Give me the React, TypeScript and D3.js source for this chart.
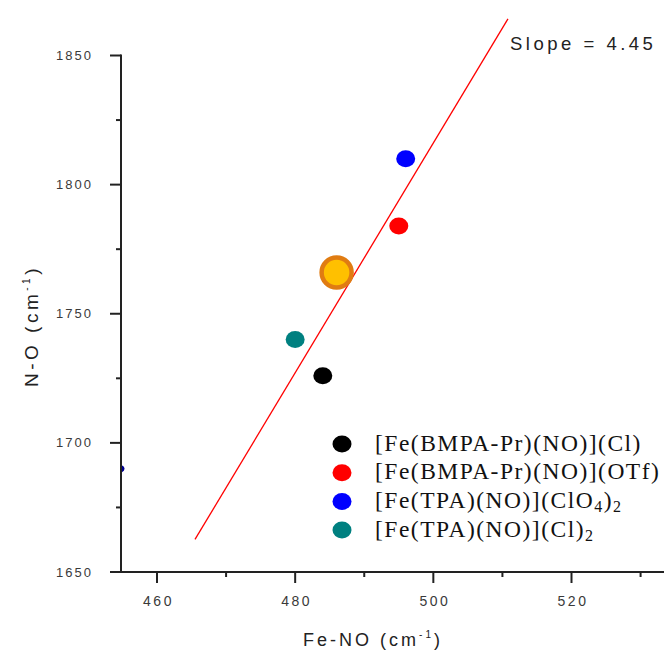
import React from "react";
import * as d3 from "d3";

// Fe–NO vs N–O stretching frequencies for the nitrosyl complexes
const seriesNames = [
  "[Fe(BMPA-Pr)(NO)](Cl)",
  "[Fe(BMPA-Pr)(NO)](OTf)",
  "[Fe(TPA)(NO)](ClO4)2",
  "[Fe(TPA)(NO)](Cl)2",
];
const seriesColors = ["#000000", "#ff0000", "#0000ff", "#008080"];
const feNO = [484, 495, 496, 480];
const nO = [1726, 1784, 1810, 1740];

// highlighted complex
const highlightFeNO = 486;
const highlightNO = 1766;

// stray point sitting on the left edge of the plot
const edgeFeNO = [454];
const edgeNO = [1690];

// linear fit
const fitSlope = 4.45;
const fitAnchor = [488.15, 1763.4];
const fitRange = [465.5, 510.8];

const xMajor = [460, 480, 500, 520];
const xMinor = [470, 490, 510, 530];
const yMajor = [1650, 1700, 1750, 1800, 1850];
const yMinor = [1675, 1725, 1775, 1825];

const W = 664;
const H = 651;
const AXIS_X = 121;
const AXIS_Y = 572;

const x = d3.scaleLinear().domain([460, 520]).range([157, 571.5]);
const y = d3.scaleLinear().domain([1650, 1850]).range([572, 55.5]);

const tickFont = "'Liberation Sans', Arial, sans-serif";
const legendFont = "'Liberation Serif', 'Times New Roman', serif";

// Splits a formula so the trailing counts of (ClO4)2 / (Cl)2 become subscripts
function formulaParts(text: string): { t: string; sub: boolean }[] {
  if (text.endsWith("(ClO4)2")) {
    return [
      { t: text.slice(0, -7) + "(ClO", sub: false },
      { t: "4", sub: true },
      { t: ")", sub: false },
      { t: "2", sub: true },
    ];
  }
  if (text.endsWith("(Cl)2")) {
    return [
      { t: text.slice(0, -1), sub: false },
      { t: "2", sub: true },
    ];
  }
  return [{ t: text, sub: false }];
}

function Formula({ text }: { text: string }) {
  const parts = formulaParts(text);
  return (
    <>
      {parts.map((p, i) =>
        p.sub ? (
          <tspan key={i} fontSize={16} dy={4}>
            {p.t}
          </tspan>
        ) : (
          <tspan key={i} dy={i > 0 && parts[i - 1].sub ? -4 : 0}>
            {p.t}
          </tspan>
        )
      )}
    </>
  );
}

export default function App() {
  const line = d3
    .line<number>()
    .x((d) => x(d))
    .y((d) => y(fitAnchor[1] + fitSlope * (d - fitAnchor[0])));

  return (
    <svg
      width={W}
      height={H}
      style={{ position: "absolute", left: 0, top: 0, background: "#fff" }}
    >
      <defs>
        <clipPath id="plotArea">
          <rect x={AXIS_X - 1} y={0} width={W} height={AXIS_Y} />
        </clipPath>
      </defs>

      {/* fit line */}
      <path
        d={line(fitRange) || ""}
        fill="none"
        stroke="#ff0000"
        strokeWidth={1.3}
      />

      {/* data points */}
      <g clipPath="url(#plotArea)">
        {edgeFeNO.map((v, i) => (
          <ellipse
            key={"e" + i}
            cx={x(v)}
            cy={y(edgeNO[i])}
            rx={9}
            ry={5}
            fill="#000090"
          />
        ))}
        {feNO.map((v, i) => (
          <ellipse
            key={i}
            cx={x(v)}
            cy={y(nO[i])}
            rx={9.5}
            ry={8.5}
            fill={seriesColors[i]}
          />
        ))}
        <circle
          cx={x(highlightFeNO)}
          cy={y(highlightNO)}
          r={15}
          fill="#ffc000"
          stroke="#e07c12"
          strokeWidth={4.5}
        />
      </g>

      {/* y axis */}
      <g stroke="#222" strokeWidth={2}>
        <line x1={AXIS_X} x2={AXIS_X} y1={y(1850) - 1} y2={AXIS_Y + 1} />
        {yMajor.map((t) => (
          <line key={t} x1={AXIS_X - 11} x2={AXIS_X} y1={y(t)} y2={y(t)} />
        ))}
        {yMinor.map((t) => (
          <line key={t} x1={AXIS_X - 5} x2={AXIS_X} y1={y(t)} y2={y(t)} />
        ))}
      </g>
      {yMajor.map((t) => (
        <text
          key={t}
          x={AXIS_X - 28}
          y={y(t) + 4.5}
          textAnchor="end"
          fontFamily={tickFont}
          fontSize={13}
          letterSpacing={2}
          fill="#3a3a3a"
        >
          {t}
        </text>
      ))}

      {/* x axis */}
      <g stroke="#222" strokeWidth={2}>
        <line x1={AXIS_X - 1} x2={W} y1={AXIS_Y} y2={AXIS_Y} />
        {xMajor.map((t) => (
          <line key={t} x1={x(t)} x2={x(t)} y1={AXIS_Y} y2={AXIS_Y + 11} />
        ))}
        {xMinor.map((t) => (
          <line key={t} x1={x(t)} x2={x(t)} y1={AXIS_Y} y2={AXIS_Y + 5} />
        ))}
      </g>
      {xMajor.map((t) => (
        <text
          key={t}
          x={x(t) + 1.5}
          y={AXIS_Y + 34}
          textAnchor="middle"
          fontFamily={tickFont}
          fontSize={14}
          letterSpacing={2.5}
          fill="#3a3a3a"
        >
          {t}
        </text>
      ))}

      {/* axis titles */}
      <text
        x={373}
        y={646}
        textAnchor="middle"
        fontFamily={tickFont}
        fontSize={18}
        letterSpacing={3}
        fill="#222"
      >
        Fe-NO (cm
        <tspan fontSize={10} dy={-8}>
          -1
        </tspan>
        <tspan dy={8}>)</tspan>
      </text>
      <text
        transform="translate(38,326) rotate(-90)"
        textAnchor="middle"
        fontFamily={tickFont}
        fontSize={19}
        letterSpacing={3.5}
        fill="#222"
      >
        N-O (cm
        <tspan fontSize={10} dy={-8}>
          -1
        </tspan>
        <tspan dy={8}>)</tspan>
      </text>

      {/* slope annotation */}
      <text
        x={510}
        y={50}
        fontFamily={tickFont}
        fontSize={18.5}
        letterSpacing={3.5}
        fill="#222"
      >
        Slope = {fitSlope.toFixed(2)}
      </text>

      {/* legend */}
      {seriesNames.map((name, i) => (
        <g key={name} transform={`translate(0, ${444 + i * 28.7})`}>
          <ellipse cx={342} cy={0} rx={9.5} ry={8.5} fill={seriesColors[i]} />
          <text
            x={375}
            y={6.5}
            fontFamily={legendFont}
            fontSize={23.5}
            letterSpacing={1.5}
            fill="#111"
          >
            <Formula text={name} />
          </text>
        </g>
      ))}
    </svg>
  );
}
